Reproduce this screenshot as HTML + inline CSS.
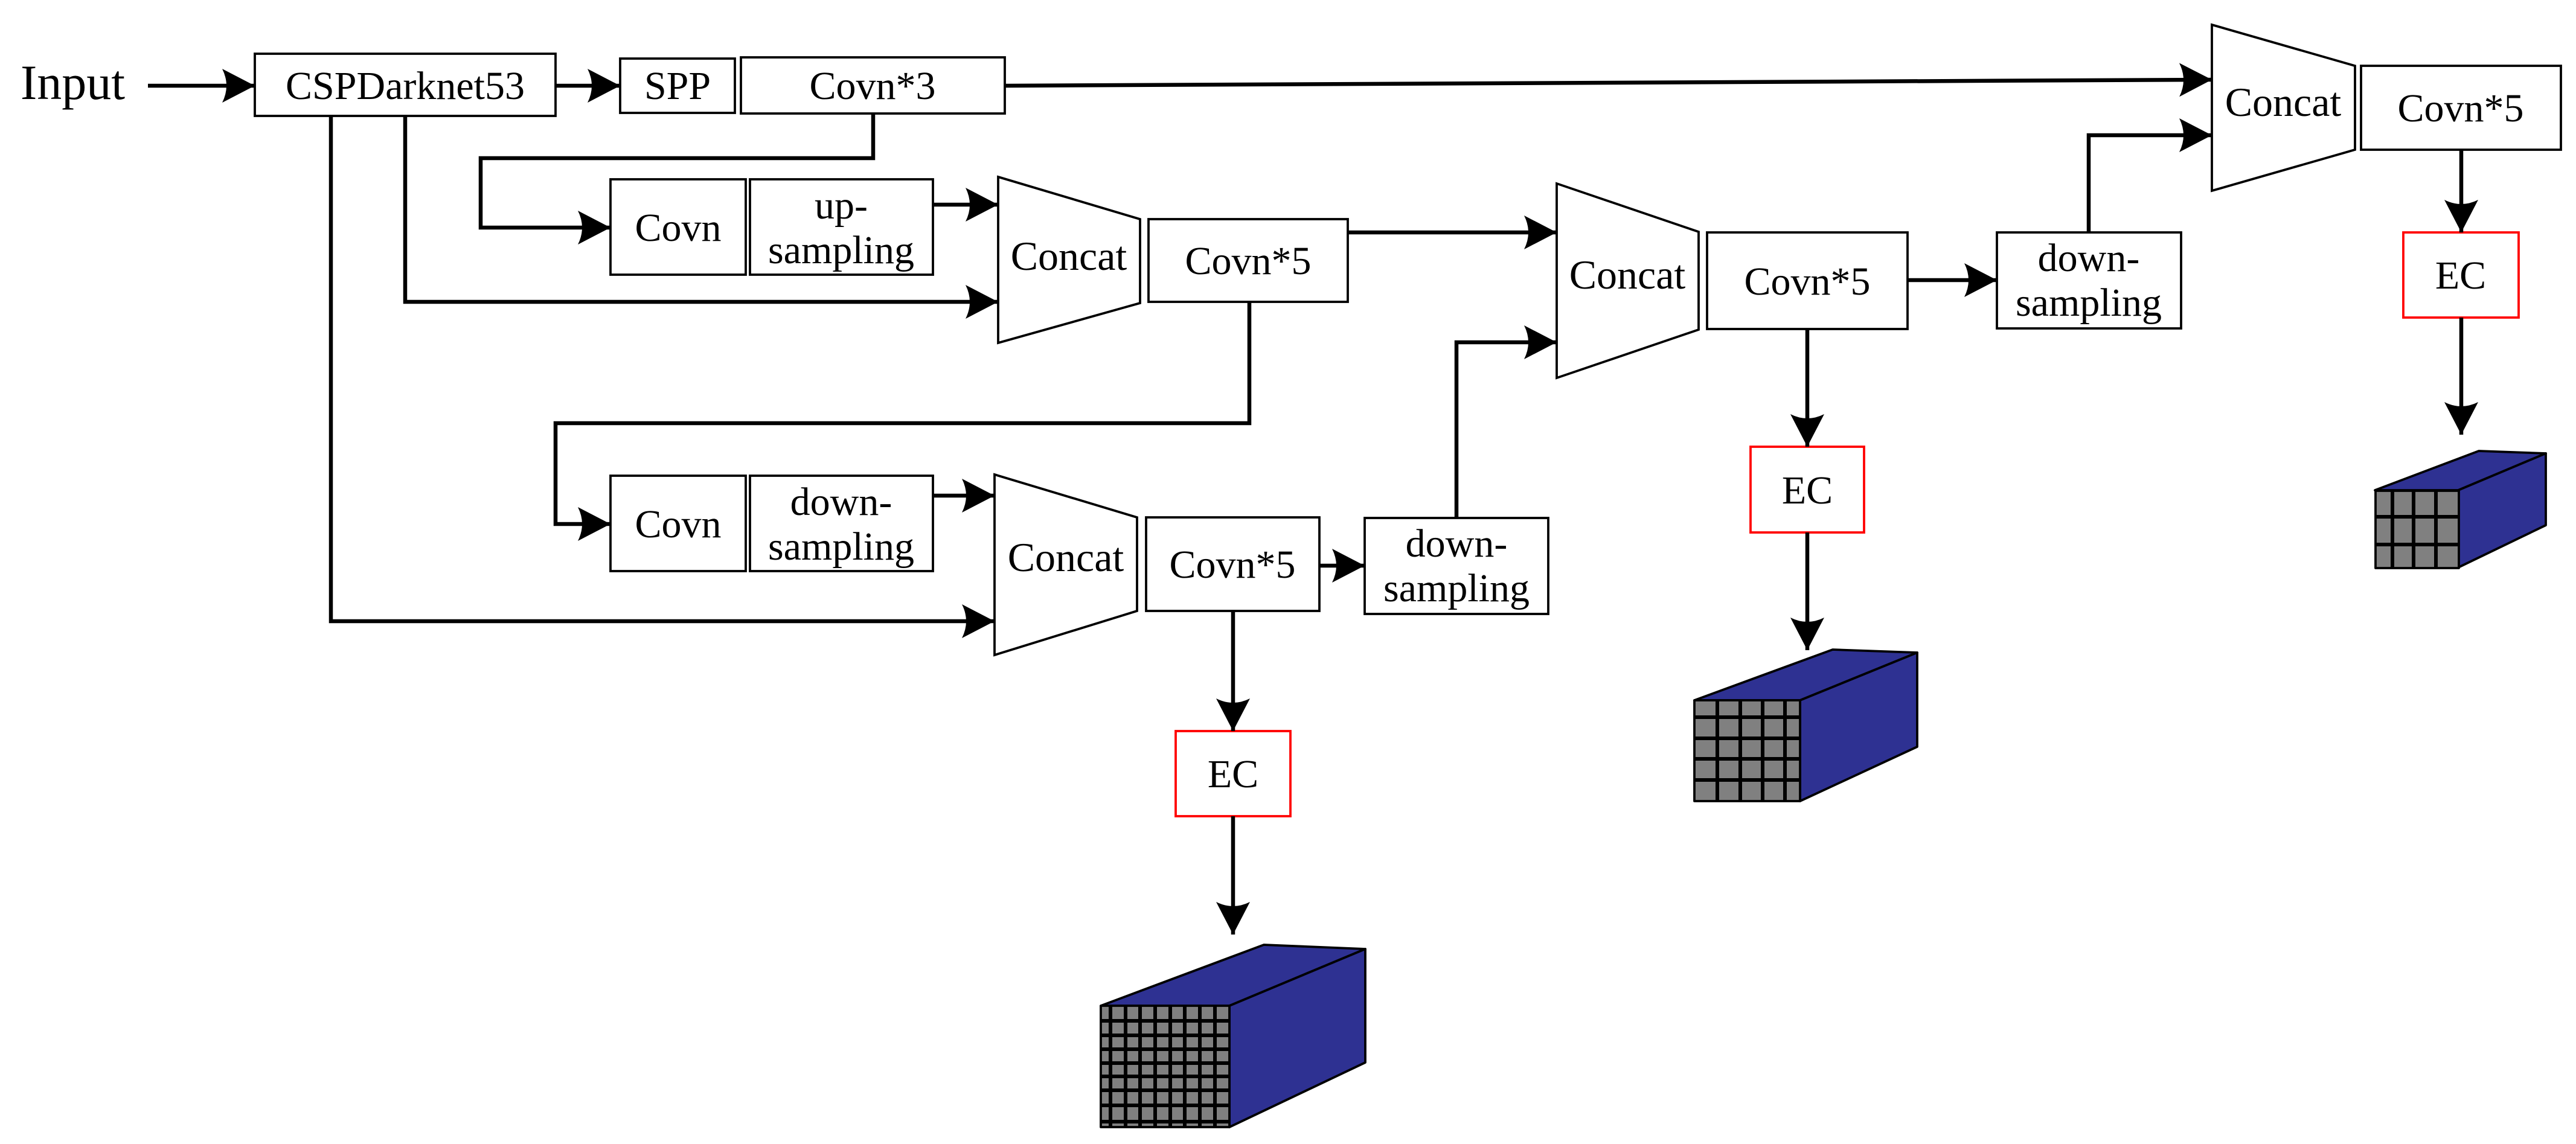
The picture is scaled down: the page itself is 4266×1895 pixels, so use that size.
<!DOCTYPE html>
<html><head><meta charset="utf-8"><style>
html,body{margin:0;padding:0;background:#fff;}
svg{display:block;}
text{font-family:"Liberation Serif",serif;fill:#000;}
</style></head><body>
<svg width="4266" height="1895" viewBox="0 0 4266 1895" xmlns="http://www.w3.org/2000/svg">
<defs>
<marker id="a" viewBox="0 0 54 56" refX="54" refY="28" markerWidth="54" markerHeight="56" orient="auto" markerUnits="userSpaceOnUse">
<path d="M0,0 L54,28 L0,56 Q14,28 0,0Z" fill="#000"/>
</marker>
</defs>
<g fill="#fff" stroke="#000" stroke-width="3.8">
<rect x="422" y="89" width="498" height="103"/>
<rect x="1027" y="97" width="190" height="90"/>
<rect x="1227" y="95" width="437" height="93"/>
<rect x="1011" y="297" width="224" height="158"/>
<rect x="1242" y="297" width="303" height="158"/>
<rect x="1011" y="788" width="224" height="158"/>
<rect x="1242" y="788" width="303" height="158"/>
<rect x="1902" y="363" width="330" height="137"/>
<rect x="1898" y="857" width="287" height="155"/>
<rect x="2260" y="858" width="304" height="159"/>
<rect x="2827" y="385" width="332" height="160"/>
<rect x="3307" y="385" width="305" height="159"/>
<rect x="3910" y="109" width="331" height="139"/>
<polygon points="1653,293 1888,363 1888,502 1653,568"/>
<polygon points="1647,786 1883,857 1883,1012 1647,1085"/>
<polygon points="2578,304 2813,384 2813,546 2578,626"/>
<polygon points="3663,41 3900,109 3900,248 3663,316"/>
</g>
<g fill="#fff" stroke="#f00" stroke-width="3.8">
<rect x="3980" y="385" width="191" height="141"/>
<rect x="2899" y="740" width="188" height="142"/>
<rect x="1947" y="1211" width="190" height="141"/>
</g>
<g fill="none" stroke="#000" stroke-width="6.5" marker-end="url(#a)">
<path d="M245,142 H422"/>
<path d="M920,142 H1027"/>
<path d="M1664,142 L3663,132"/>
<path d="M1446,188 V262 H796 V377 H1011"/>
<path d="M1545,339 H1653"/>
<path d="M671,192 V500 H1653"/>
<path d="M2232,385 H2578"/>
<path d="M2069,500 V701 H920 V868 H1011"/>
<path d="M1545,821 H1647"/>
<path d="M548,192 V1029 H1647"/>
<path d="M2185,937 H2260"/>
<path d="M2412,858 V567 H2578"/>
<path d="M3159,464 H3307"/>
<path d="M3459,385 V224 H3663"/>
<path d="M4076,248 V385"/>
<path d="M4076,526 V720"/>
<path d="M2993,545 V740"/>
<path d="M2993,882 V1077"/>
<path d="M2042,1012 V1211"/>
<path d="M2042,1352 V1548"/>
</g>
<g font-size="66" text-anchor="middle">
<text x="34" y="164" font-size="82" text-anchor="start">Input</text>
<text x="671" y="164">CSPDarknet53</text>
<text x="1122" y="164">SPP</text>
<text x="1445" y="164">Covn*3</text>
<text x="1123" y="399">Covn</text>
<text x="1393" y="362">up-</text>
<text x="1393" y="436">sampling</text>
<text x="1123" y="890">Covn</text>
<text x="1393" y="853">down-</text>
<text x="1393" y="927">sampling</text>
<text x="1770" y="447" font-size="68">Concat</text>
<text x="1765" y="946" font-size="68">Concat</text>
<text x="2695" y="478" font-size="68">Concat</text>
<text x="3781" y="192" font-size="68">Concat</text>
<text x="2067" y="454">Covn*5</text>
<text x="2041" y="957">Covn*5</text>
<text x="2993" y="488">Covn*5</text>
<text x="4075" y="201">Covn*5</text>
<text x="2412" y="922">down-</text>
<text x="2412" y="996">sampling</text>
<text x="3459" y="449">down-</text>
<text x="3459" y="523">sampling</text>
<text x="4075" y="478">EC</text>
<text x="2993" y="834">EC</text>
<text x="2042" y="1304">EC</text>
</g>
<g stroke="#000" stroke-width="3.8" stroke-linejoin="round">
<polygon points="3933,812 4105,747 4216,751 4071,812" fill="#2E3192"/>
<polygon points="4071,812 4216,751 4216,870 4071,940" fill="#2E3192"/>
<rect x="3934" y="813" width="138" height="128" fill="#808080"/>
<polygon points="2806,1160 3035,1076 3175,1081 2981,1160" fill="#2E3192"/>
<polygon points="2981,1160 3175,1081 3175,1237 2981,1327" fill="#2E3192"/>
<rect x="2806" y="1160" width="175" height="167" fill="#808080"/>
<polygon points="1823,1666 2093,1565 2261,1572 2036,1666" fill="#2E3192"/>
<polygon points="2036,1666 2261,1572 2261,1760 2036,1867" fill="#2E3192"/>
<rect x="1823" y="1666" width="213" height="201" fill="#808080"/>
</g>
<g stroke="#000" stroke-width="6">
<path d="M3962,813V941M3997,813V941M4034,813V941M3934,856H4072M3934,902H4072"/>
<path d="M2844,1160V1327M2882,1160V1327M2919,1160V1327M2956,1160V1327M2806,1188H2981M2806,1223H2981M2806,1257H2981M2806,1292H2981"/>
<path d="M1839,1666V1867M1864,1666V1867M1888,1666V1867M1913,1666V1867M1938,1666V1867M1962,1666V1867M1987,1666V1867M2012,1666V1867M1823,1691H2036M1823,1715H2036M1823,1738H2036M1823,1761H2036M1823,1783H2036M1823,1806H2036M1823,1831H2036M1823,1858H2036"/>
</g>
</svg>
</body></html>
